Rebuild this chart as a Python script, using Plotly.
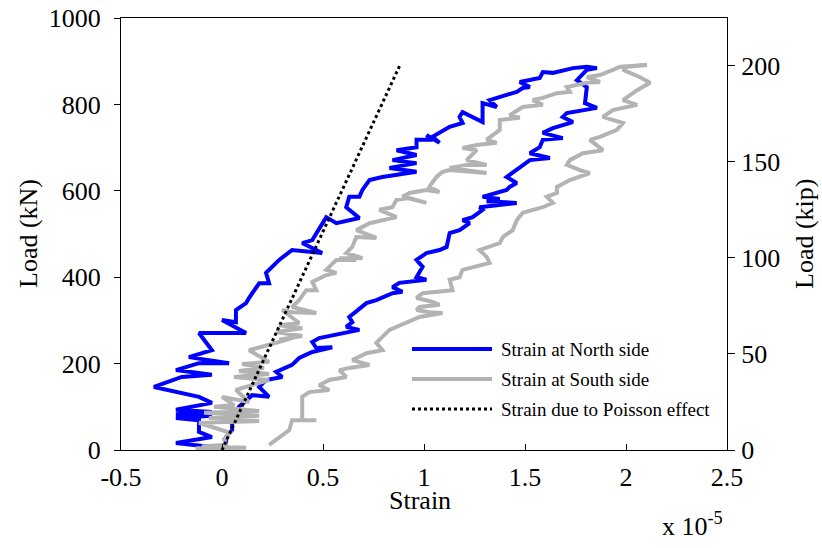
import plotly.graph_objects as go

# ---------------- data (strain in 1e-5, load in kN) ----------------
north_strain = [
    -0.10, -0.114, -0.05, -0.228, -0.05, -0.114, -0.114, -0.228, -0.05, -0.228, -0.05, -0.228,
    -0.05, -0.114, -0.337, -0.199, -0.05, -0.228, -0.114, 0.035, -0.164, -0.05, -0.114, 0.119,
    0.0, 0.069, 0.069, 0.119, 0.134, 0.184, 0.233, 0.218, 0.283, 0.347, 0.496, 0.397, 0.447,
    0.516, 0.566, 0.68, 0.615, 0.63, 0.68, 0.695, 0.73, 0.794, 0.963, 0.829, 0.963, 0.844,
    0.963, 0.864, 0.963, 0.963, 1.042, 1.012, 1.077, 1.042, 1.127, 1.191, 1.176, 1.191, 1.29,
    1.29, 1.36, 1.325, 1.409, 1.459, 1.489, 1.524, 1.474, 1.573, 1.588, 1.638, 1.737, 1.806,
    1.856,
    1.806, 1.757, 1.806, 1.797, 1.856, 1.707, 1.687, 1.737, 1.638, 1.588, 1.687, 1.588, 1.573,
    1.524, 1.623, 1.524, 1.474, 1.409, 1.459, 1.424, 1.409, 1.29, 1.375, 1.31, 1.459, 1.275,
    1.29, 1.241, 1.191, 1.226, 1.176, 1.127, 1.112, 1.077, 1.012, 0.963, 0.993, 0.963, 1.012,
    0.878, 0.844, 0.893, 0.844, 0.764, 0.715, 0.63, 0.645, 0.615, 0.68, 0.566, 0.481, 0.447,
    0.467, 0.546, 0.447, 0.382, 0.347, 0.268, 0.298, 0.218, 0.184, 0.233, 0.149, 0.084, 0.05,
    0.05, 0.02, 0.02, 0.01,
]
north_load = [
    0, 5, 7, 16, 30, 42, 69, 74, 79, 83, 88, 93,
    109, 123, 146, 169, 174, 185, 201, 201, 215, 231, 271, 271,
    301, 296, 324, 340, 352, 386, 386, 410, 440, 463, 456, 479, 486,
    539, 525, 537, 562, 586, 586, 602, 625, 632, 644, 653, 664, 671,
    683, 694, 701, 718, 718, 729, 711, 725, 748, 757, 771, 782, 759,
    803, 794, 810, 822, 829, 838, 840, 852, 861, 875, 873, 884, 887,
    884,
    880, 856, 840, 803, 792, 780, 771, 759, 745, 734, 722, 718, 701,
    687, 676, 671, 655, 632, 618, 609, 602, 586, 581, 576, 572, 562,
    556, 539, 532, 525, 509, 502, 470, 463, 456, 440, 424, 400, 394,
    387, 377, 366, 363, 347, 340, 308, 296, 285, 278, 266, 259, 250,
    236, 238, 227, 213, 197, 181, 169, 162, 146, 123, 127, 100, 63,
    46, 30, 7, 0,
]

south_strain = [
    0.0, -0.13, 0.12, -0.10, 0.02, 0.01, 0.04, -0.114, 0.184, -0.065, 0.184, -0.089, 0.184,
    -0.04, 0.06, 0.0, 0.134, 0.069, 0.233, 0.06, 0.233, 0.084, 0.208, 0.099, 0.233, 0.134,
    0.268, 0.367, 0.283, 0.397, 0.268, 0.397, 0.283, 0.382, 0.298, 0.347, 0.467, 0.347, 0.382,
    0.417, 0.467, 0.447, 0.516, 0.566, 0.516, 0.566, 0.665, 0.58, 0.695, 0.615, 0.645, 0.665,
    0.764, 0.665, 0.73, 0.794, 0.864, 0.779, 0.844, 0.864, 0.928, 1.012, 0.893, 0.928, 1.012,
    1.077, 1.027, 1.042, 1.062, 1.092, 1.127, 1.31, 1.127, 1.211, 1.31, 1.211, 1.261, 1.191,
    1.261, 1.36, 1.31, 1.34, 1.375, 1.375, 1.474, 1.424, 1.489, 1.588, 1.538, 1.588, 1.658,
    1.722, 1.707, 1.806, 1.871, 1.806, 1.871, 1.935, 1.97, 2.104,
    2.005, 1.985, 2.07, 2.119, 2.055, 1.985, 2.055, 1.935, 1.886, 1.985, 1.955, 1.871, 1.821,
    1.886, 1.787, 1.722, 1.707, 1.772, 1.821, 1.722, 1.658, 1.658, 1.608, 1.638, 1.588, 1.489,
    1.459, 1.439, 1.39, 1.375, 1.275, 1.31, 1.325, 1.191, 1.176, 1.127, 1.141, 0.993, 0.963,
    1.042, 1.077, 0.978, 0.963, 1.027, 1.092, 0.978, 0.913, 0.829, 0.794, 0.764, 0.794, 0.715,
    0.645, 0.73, 0.63, 0.581, 0.615, 0.531, 0.481, 0.531, 0.432, 0.397, 0.397, 0.467, 0.347,
    0.333, 0.233,
]
south_load = [
    0, 4, 5, 8, 12, 25, 40, 63, 67, 74, 79, 86, 90,
    100, 104, 123, 111, 139, 162, 169, 176, 183, 190, 199, 204, 231,
    248, 262, 255, 264, 273, 282, 289, 294, 324, 319, 317, 331, 347,
    370, 370, 389, 405, 410, 417, 440, 440, 444, 444, 456, 470, 493,
    491, 509, 525, 532, 539, 556, 562, 579, 583, 572, 586, 595, 602,
    597, 609, 620, 632, 644, 648, 641, 653, 660, 660, 671, 694, 699,
    706, 711, 718, 729, 741, 764, 769, 775, 794, 799, 810, 815, 826,
    829, 840, 850, 852, 863, 868, 880, 887, 891,
    887, 880, 863, 850, 833, 810, 799, 787, 771, 757, 741, 725, 718,
    694, 687, 671, 660, 648, 641, 625, 609, 595, 586, 572, 562, 549,
    532, 509, 493, 479, 463, 447, 433, 417, 400, 394, 370, 363, 352,
    343, 336, 331, 324, 319, 317, 308, 294, 278, 262, 248, 231, 224,
    208, 197, 190, 185, 169, 162, 150, 139, 134, 123, 69, 69, 69,
    46, 12,
]

poisson_strain = [0.0, 0.88]
poisson_load = [0, 890]

x_ticks = [-0.5, 0, 0.5, 1, 1.5, 2, 2.5]
x_tick_text = ["-0.5", "0", "0.5", "1", "1.5", "2", "2.5"]
kn_ticks = [0, 200, 400, 600, 800, 1000]
kip_ticks = [0, 50, 100, 150, 200]
KN_PER_KIP = 4.448

legend_names = ["Strain at North side", "Strain at South side", "Strain due to Poisson effect"]

BLUE = "#0000ff"
GRAY = "#b3b3b3"
FONT = "Liberation Serif, Times New Roman, serif"

fig = go.Figure()
fig.add_trace(go.Scatter(x=north_strain, y=north_load, mode="lines",
                         line=dict(color=BLUE, width=4), name=legend_names[0], showlegend=False))
fig.add_trace(go.Scatter(x=south_strain, y=south_load, mode="lines",
                         line=dict(color=GRAY, width=4), name=legend_names[1], showlegend=False))
fig.add_trace(go.Scatter(x=poisson_strain, y=poisson_load, mode="lines",
                         line=dict(color="black", width=3, dash="dot"), name=legend_names[2], showlegend=False))
# secondary axis carrier (kip)
fig.add_trace(go.Scatter(x=poisson_strain, y=[v / KN_PER_KIP for v in poisson_load], yaxis="y2",
                         mode="lines", line=dict(color="rgba(0,0,0,0)", width=0),
                         hoverinfo="skip", showlegend=False))

# page layout in page pixels (body margin removed below)
W, H = 822, 548
L, R, T, B = 121, 727, 18, 450
def px(xp):
    return (xp - L) / (R - L)
def py(yp):
    return (B - yp) / (B - T)

shapes = []
annotations = []
leg_rows = [(349, BLUE, "solid", 4), (379, GRAY, "solid", 4), (409, "black", "dot", 3)]
for (yy, col, dash, w), name in zip(leg_rows, legend_names):
    shapes.append(dict(type="line", xref="paper", yref="paper", x0=px(412), x1=px(492),
                       y0=py(yy), y1=py(yy), line=dict(color=col, width=w, dash=dash)))
    annotations.append(dict(xref="paper", yref="paper", x=px(499), y=py(yy), text=name,
                            showarrow=False, xanchor="left", yanchor="middle",
                            font=dict(family=FONT, size=19, color="black")))

annotations += [
    dict(xref="paper", yref="paper", x=px(420), y=py(500), text="Strain", showarrow=False,
         xanchor="center", yanchor="middle", font=dict(family=FONT, size=26, color="black")),
    dict(xref="paper", yref="paper", x=px(660), y=py(524), text="x 10<sup>-5</sup>", showarrow=False,
         xanchor="left", yanchor="middle", font=dict(family=FONT, size=26, color="black")),
    dict(xref="paper", yref="paper", x=px(28), y=0.5, text="Load (kN)", showarrow=False, textangle=-90,
         xanchor="center", yanchor="middle", font=dict(family=FONT, size=26, color="black")),
    dict(xref="paper", yref="paper", x=px(804), y=0.5, text="Load (kip)", showarrow=False, textangle=-90,
         xanchor="center", yanchor="middle", font=dict(family=FONT, size=26, color="black")),
]

tickfont = dict(family=FONT, size=26, color="black")
fig.update_layout(
    width=W, height=H,
    margin=dict(l=L, r=W - R, t=T, b=H - B, autoexpand=False),
    paper_bgcolor="white", plot_bgcolor="white",
    xaxis=dict(range=[-0.5, 2.5], tickvals=x_ticks, ticktext=x_tick_text, ticks="inside", ticklen=6,
               tickcolor="black", tickwidth=1, showline=True, linecolor="black", linewidth=1,
               mirror=True, showgrid=False, zeroline=False, tickfont=tickfont, ticklabelstandoff=4,
               automargin=False, ticklabeloverflow="allow"),
    yaxis=dict(range=[0, 1000], tickvals=kn_ticks, ticks="outside", ticklen=6, tickcolor="black",
               tickwidth=1, showline=True, linecolor="black", linewidth=1, showgrid=False,
               zeroline=False, tickfont=tickfont, ticklabelstandoff=8, automargin=False,
               ticklabeloverflow="allow"),
    yaxis2=dict(range=[0, 1000 / KN_PER_KIP], tickvals=kip_ticks, overlaying="y", side="right",
                ticks="outside", ticklen=7, tickcolor="black", tickwidth=1, showline=True,
                linecolor="black", linewidth=1, showgrid=False, zeroline=False, tickfont=tickfont,
                ticklabelstandoff=1, automargin=False, ticklabeloverflow="allow"),
    shapes=shapes, annotations=annotations, showlegend=False,
)

fig.write_html("out.html", config={"displayModeBar": False},
               post_script="document.body.style.margin='0';document.body.style.overflow='hidden';")
